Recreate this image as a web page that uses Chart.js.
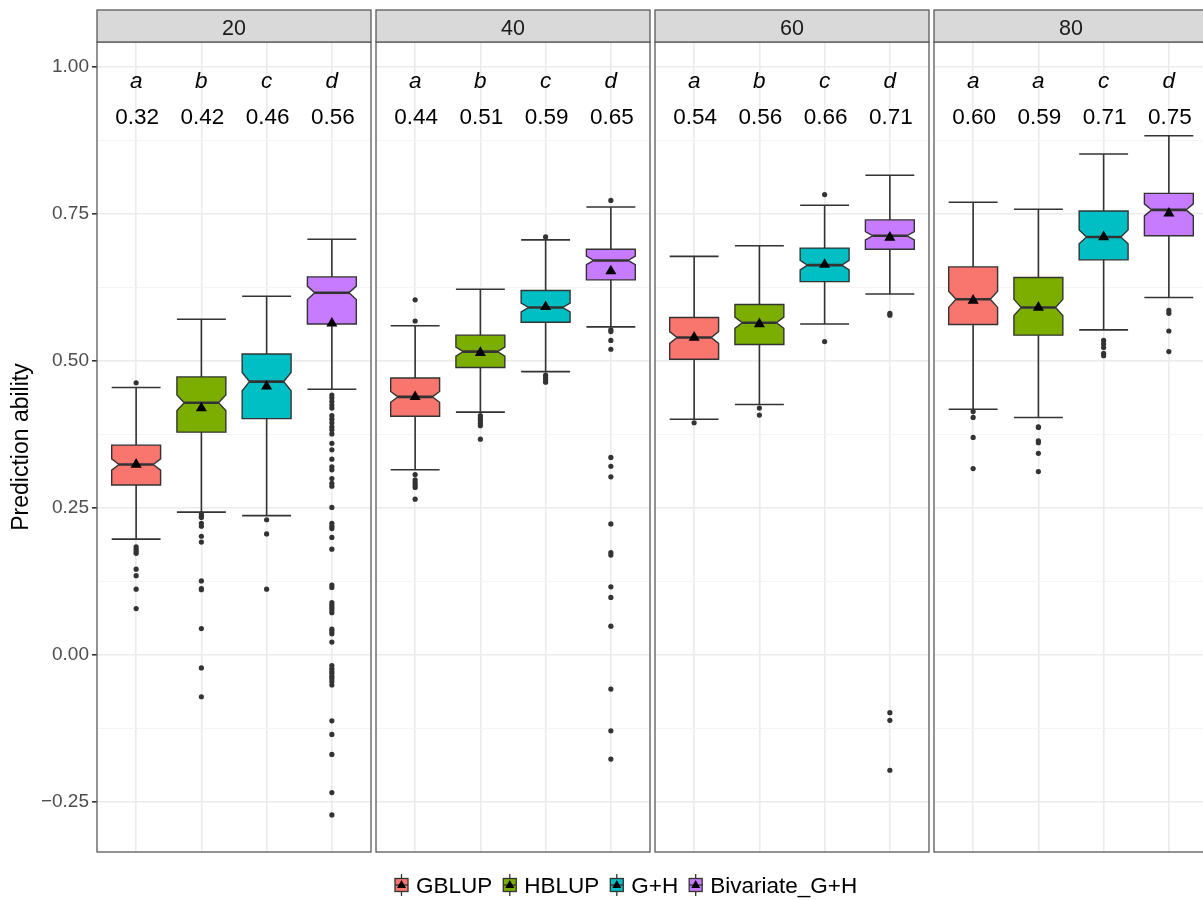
<!DOCTYPE html>
<html>
<head>
<meta charset="utf-8">
<script src="https://cdn.jsdelivr.net/npm/chart.js@4.4.1/dist/chart.umd.min.js"></script>
<style>
  html, body { margin: 0; padding: 0; background: #ffffff; overflow: hidden; }
  #wrap { width: 1215px; height: 900px; position: relative; }
</style>
</head>
<body>
<div id="wrap"><canvas id="chart"></canvas></div>
<script>
// ---- data ---------------------------------------------------------------
const facets  = ['20', '40', '60', '80'];
const methods = ['GBLUP', 'HBLUP', 'G+H', 'Bivariate_G+H'];

// significance letters per facet, one per method
const groupLetters = [
  ['a', 'b', 'c', 'd'],
  ['a', 'b', 'c', 'd'],
  ['a', 'b', 'c', 'd'],
  ['a', 'a', 'c', 'd']
];

// box statistics, rows = facets, columns = methods
const whiskerLow = [
  [0.197, 0.243, 0.237, 0.452],
  [0.315, 0.413, 0.482, 0.558],
  [0.401, 0.426, 0.563, 0.614],
  [0.418, 0.404, 0.553, 0.608]
];
const lowerQuartile = [
  [0.289, 0.379, 0.402, 0.563],
  [0.406, 0.489, 0.566, 0.638],
  [0.503, 0.528, 0.635, 0.690],
  [0.562, 0.544, 0.672, 0.713]
];
const medians = [
  [0.324, 0.429, 0.465, 0.616],
  [0.439, 0.516, 0.591, 0.671],
  [0.540, 0.565, 0.663, 0.713],
  [0.605, 0.591, 0.711, 0.757]
];
const upperQuartile = [
  [0.357, 0.473, 0.512, 0.643],
  [0.471, 0.544, 0.620, 0.690],
  [0.574, 0.596, 0.692, 0.740],
  [0.660, 0.642, 0.755, 0.785]
];
const whiskerHigh = [
  [0.455, 0.571, 0.610, 0.707],
  [0.560, 0.622, 0.706, 0.762],
  [0.678, 0.696, 0.765, 0.816],
  [0.770, 0.758, 0.852, 0.883]
];
const means = [
  [0.324, 0.420, 0.457, 0.564],
  [0.439, 0.514, 0.592, 0.653],
  [0.540, 0.563, 0.664, 0.710],
  [0.603, 0.591, 0.711, 0.751]
];

// points beyond the whiskers
const outliers20 = [
  [0.463, 0.184, 0.180, 0.176, 0.173, 0.146, 0.135, 0.112, 0.079],
  [0.240, 0.236, 0.234, 0.224, 0.219, 0.202, 0.192, 0.126, 0.113, 0.111, 0.045, -0.022, -0.071],
  [0.230, 0.206, 0.112],
  [0.442, 0.437, 0.431, 0.425, 0.420, 0.407, 0.401, 0.395, 0.388, 0.383, 0.376, 0.360, 0.349,
   0.333, 0.320, 0.315, 0.300, 0.292, 0.287, 0.251, 0.224, 0.219, 0.215, 0.200, 0.180, 0.119,
   0.115, 0.089, 0.085, 0.081, 0.077, 0.072, 0.044, 0.040, 0.036, 0.022, -0.018, -0.023, -0.027,
   -0.031, -0.036, -0.040, -0.045, -0.051, -0.112, -0.135, -0.169, -0.234, -0.272]
];
const outliers40 = [
  [0.604, 0.568, 0.307, 0.298, 0.293, 0.289, 0.285, 0.265],
  [0.407, 0.403, 0.399, 0.394, 0.390, 0.367],
  [0.711, 0.476, 0.472, 0.468, 0.464],
  [0.773, 0.553, 0.550, 0.535, 0.520, 0.336, 0.321, 0.303, 0.223, 0.174, 0.170, 0.116, 0.098,
   0.049, -0.058, -0.129, -0.177]
];
const outliers60 = [
  [0.395],
  [0.420, 0.408],
  [0.783, 0.533],
  [0.581, 0.578, -0.098, -0.111, -0.196]
];
const outliers80 = [
  [0.414, 0.404, 0.370, 0.317],
  [0.388, 0.387, 0.364, 0.361, 0.343, 0.312],
  [0.535, 0.529, 0.523, 0.513, 0.509],
  [0.586, 0.581, 0.551, 0.516]
];
const outliers = [outliers20, outliers40, outliers60, outliers80];

const replicates = 125;            // observations per box, used for the notch
const yGridValues = [-0.25, -0.125, 0, 0.125, 0.25, 0.375, 0.5, 0.625, 0.75, 0.875, 1.0];

// ---- styling & layout ---------------------------------------------------
const FONT = '"Liberation Sans", Arial, Helvetica, sans-serif';
const methodColors = ['#F8766D', '#7CAE00', '#00BFC4', '#C77CFF'];
const INK = '#333333';
const PANEL_UNITS = 4.2;                 // 4 categories + 0.6 expansion on both sides
const PX_PER_UNIT = 274 / PANEL_UNITS;
const GAP_UNITS = 5 / PX_PER_UNIT;
const AXIS_WIDTH = 97;
const BOX_HALF = 0.375;
const NOTCH_RATIO = 0.7;
const STRIP_TOP = 10;

const panelLeft = f => f * (PANEL_UNITS + GAP_UNITS);
const xAt = (f, m) => panelLeft(f) + 0.6 + m;
const isMajor = v => Math.abs(v * 4 - Math.round(v * 4)) < 1e-9;
const fmtTick = v => (v < 0 ? '\u2212' : '') + Math.abs(v).toFixed(2);

const categoryCenters = [];
facets.forEach((_, f) => methods.forEach((_, m) => categoryCenters.push(xAt(f, m))));

// ---- datasets -----------------------------------------------------------
const datasets = [];
methods.forEach((name, m) => {
  datasets.push({
    label: name + ' mean',
    data: facets.map((_, f) => ({ x: xAt(f, m), y: means[f][m] })),
    pointStyle: 'triangle',
    pointRadius: 6.4,
    backgroundColor: '#000000',
    borderWidth: 0,
    order: 1
  });
  datasets.push({
    label: name + ' outliers',
    data: facets.flatMap((_, f) => outliers[f][m].map(v => ({ x: xAt(f, m), y: v }))),
    pointStyle: 'circle',
    pointRadius: 2.6,
    backgroundColor: INK,
    borderWidth: 0,
    order: 2
  });
});

// ---- drawing helpers ----------------------------------------------------
function drawBox(ctx, xs, ys, f, m) {
  const c = xAt(f, m);
  const xl = xs.getPixelForValue(c - BOX_HALF);
  const xr = xs.getPixelForValue(c + BOX_HALF);
  const xc = xs.getPixelForValue(c);
  const nl = xs.getPixelForValue(c - BOX_HALF * NOTCH_RATIO);
  const nr = xs.getPixelForValue(c + BOX_HALF * NOTCH_RATIO);
  const q1 = lowerQuartile[f][m], q3 = upperQuartile[f][m], med = medians[f][m];
  const notch = 1.58 * (q3 - q1) / Math.sqrt(replicates);
  const yWl = ys.getPixelForValue(whiskerLow[f][m]);
  const yWh = ys.getPixelForValue(whiskerHigh[f][m]);
  const yQ1 = ys.getPixelForValue(q1);
  const yQ3 = ys.getPixelForValue(q3);
  const yMed = ys.getPixelForValue(med);
  const yNh = ys.getPixelForValue(med + notch);
  const yNl = ys.getPixelForValue(med - notch);

  // error bar: stem and caps
  ctx.strokeStyle = INK;
  ctx.lineWidth = 1.6;
  ctx.beginPath();
  ctx.moveTo(xc, yWh); ctx.lineTo(xc, yWl);
  ctx.moveTo(xl, yWh); ctx.lineTo(xr, yWh);
  ctx.moveTo(xl, yWl); ctx.lineTo(xr, yWl);
  ctx.stroke();

  // notched box
  ctx.beginPath();
  ctx.moveTo(xl, yQ3);
  ctx.lineTo(xr, yQ3);
  ctx.lineTo(xr, yNh);
  ctx.lineTo(nr, yMed);
  ctx.lineTo(xr, yNl);
  ctx.lineTo(xr, yQ1);
  ctx.lineTo(xl, yQ1);
  ctx.lineTo(xl, yNl);
  ctx.lineTo(nl, yMed);
  ctx.lineTo(xl, yNh);
  ctx.closePath();
  ctx.fillStyle = methodColors[m];
  ctx.fill();
  ctx.lineWidth = 1.4;
  ctx.strokeStyle = INK;
  ctx.stroke();

  // median
  ctx.lineWidth = 2.6;
  ctx.beginPath();
  ctx.moveTo(nl, yMed); ctx.lineTo(nr, yMed);
  ctx.stroke();
}

function drawLegendKey(ctx, x0, yc, color) {
  const w = 13, h = 13, xc = x0 + w / 2;
  ctx.strokeStyle = INK;
  ctx.lineWidth = 1.3;
  ctx.beginPath();
  ctx.moveTo(xc, yc - 11); ctx.lineTo(xc, yc + 11);
  ctx.stroke();
  ctx.fillStyle = color;
  ctx.fillRect(x0, yc - h / 2, w, h);
  ctx.strokeRect(x0, yc - h / 2, w, h);
  ctx.beginPath();
  ctx.moveTo(x0, yc); ctx.lineTo(x0 + w, yc);
  ctx.stroke();
  ctx.fillStyle = '#000000';
  ctx.beginPath();
  ctx.moveTo(xc, yc - 5);
  ctx.lineTo(xc + 4.5, yc + 3);
  ctx.lineTo(xc - 4.5, yc + 3);
  ctx.closePath();
  ctx.fill();
}

const facetPlugin = {
  id: 'facetBoxes',
  // fix the horizontal resolution so every panel is the same pixel width
  afterLayout(chart) {
    const s = chart.scales.x;
    s.min = 0;
    s.max = (s.right - s.left) / PX_PER_UNIT;
    s.configure();
  },
  beforeDatasetsDraw(chart) {
    const { ctx, chartArea: a, scales: { x, y } } = chart;
    ctx.save();
    // blank gutters between the panels
    ctx.fillStyle = '#ffffff';
    for (let f = 0; f < facets.length - 1; f++) {
      const r = x.getPixelForValue(panelLeft(f) + PANEL_UNITS);
      const l = x.getPixelForValue(panelLeft(f + 1));
      ctx.fillRect(r, a.top - 2, l - r, a.bottom - a.top + 4);
    }
    facets.forEach((_, f) => methods.forEach((_, m) => drawBox(ctx, x, y, f, m)));
    ctx.restore();
  },
  afterDatasetsDraw(chart) {
    const { ctx, chartArea: a, scales: { x } } = chart;
    ctx.save();
    ctx.strokeStyle = '#5a5a5a';
    ctx.lineWidth = 1.3;
    facets.forEach((_, f) => {
      const l = x.getPixelForValue(panelLeft(f));
      const r = x.getPixelForValue(panelLeft(f) + PANEL_UNITS);
      ctx.strokeRect(l, a.top, r - l, a.bottom - a.top);
    });
    ctx.restore();
  },
  afterDraw(chart) {
    const { ctx, chartArea: a, scales: { x } } = chart;
    ctx.save();
    // facet strips
    facets.forEach((label, f) => {
      const l = x.getPixelForValue(panelLeft(f));
      const r = x.getPixelForValue(panelLeft(f) + PANEL_UNITS);
      ctx.fillStyle = '#D9D9D9';
      ctx.fillRect(l, STRIP_TOP, r - l, a.top - STRIP_TOP);
      ctx.strokeStyle = '#5a5a5a';
      ctx.lineWidth = 1.3;
      ctx.strokeRect(l, STRIP_TOP, r - l, a.top - STRIP_TOP);
      ctx.fillStyle = '#1A1A1A';
      ctx.font = '21.5px ' + FONT;
      ctx.textAlign = 'center';
      ctx.textBaseline = 'alphabetic';
      ctx.fillText(label, (l + r) / 2, 35);
    });

    // group letters and mean values above each box
    ctx.fillStyle = '#000000';
    ctx.textAlign = 'center';
    ctx.textBaseline = 'alphabetic';
    facets.forEach((_, f) => methods.forEach((_, m) => {
      const px = x.getPixelForValue(xAt(f, m));
      ctx.font = 'italic 22.5px ' + FONT;
      ctx.fillText(groupLetters[f][m], px, 88);
      ctx.font = '22.5px ' + FONT;
      ctx.fillText(means[f][m].toFixed(2), px + 1, 124);
    }));

    // y axis title
    ctx.save();
    ctx.translate(22, (a.top + a.bottom) / 2);
    ctx.rotate(-Math.PI / 2);
    ctx.font = '23px ' + FONT;
    ctx.textBaseline = 'middle';
    ctx.fillText('Prediction ability', 0, 0);
    ctx.restore();

    // legend
    ctx.font = '22.5px ' + FONT;
    ctx.textAlign = 'left';
    ctx.textBaseline = 'alphabetic';
    let lx = 395;
    const ly = 885;
    methods.forEach((name, m) => {
      drawLegendKey(ctx, lx, ly, methodColors[m]);
      ctx.fillStyle = '#000000';
      ctx.fillText(name, lx + 21, 893);
      lx += 21 + ctx.measureText(name).width + 11;
    });
    ctx.restore();
  }
};

// ---- chart --------------------------------------------------------------
new Chart(document.getElementById('chart'), {
  type: 'scatter',
  data: { datasets },
  plugins: [facetPlugin],
  options: {
    responsive: true,
    maintainAspectRatio: false,
    animation: false,
    events: [],
    layout: { padding: { top: 42, bottom: 48, left: 0, right: 0 } },
    plugins: { legend: { display: false }, tooltip: { enabled: false } },
    scales: {
      x: {
        type: 'linear',
        min: 0,
        max: 17,
        afterFit(s) { s.height = 0; },
        afterBuildTicks(s) { s.ticks = categoryCenters.map(v => ({ value: v })); },
        ticks: { display: false },
        grid: { color: '#EBEBEB', lineWidth: 1.6, drawTicks: false },
        border: { display: false }
      },
      y: {
        type: 'linear',
        min: -0.335,
        max: 1.0425,
        afterFit(s) { s.width = AXIS_WIDTH; },
        afterBuildTicks(s) { s.ticks = yGridValues.map(v => ({ value: v })); },
        ticks: {
          autoSkip: false,
          padding: 3,
          color: '#4D4D4D',
          font: { family: FONT, size: 19 },
          callback: v => (isMajor(v) ? fmtTick(v) : '')
        },
        grid: {
          color: c => (isMajor(c.tick.value) ? '#EBEBEB' : '#F4F4F4'),
          lineWidth: c => (isMajor(c.tick.value) ? 1.6 : 1),
          tickColor: c => (isMajor(c.tick.value) ? INK : 'rgba(0,0,0,0)'),
          tickLength: 5
        },
        border: { display: false }
      }
    }
  }
});
</script>
</body>
</html>
